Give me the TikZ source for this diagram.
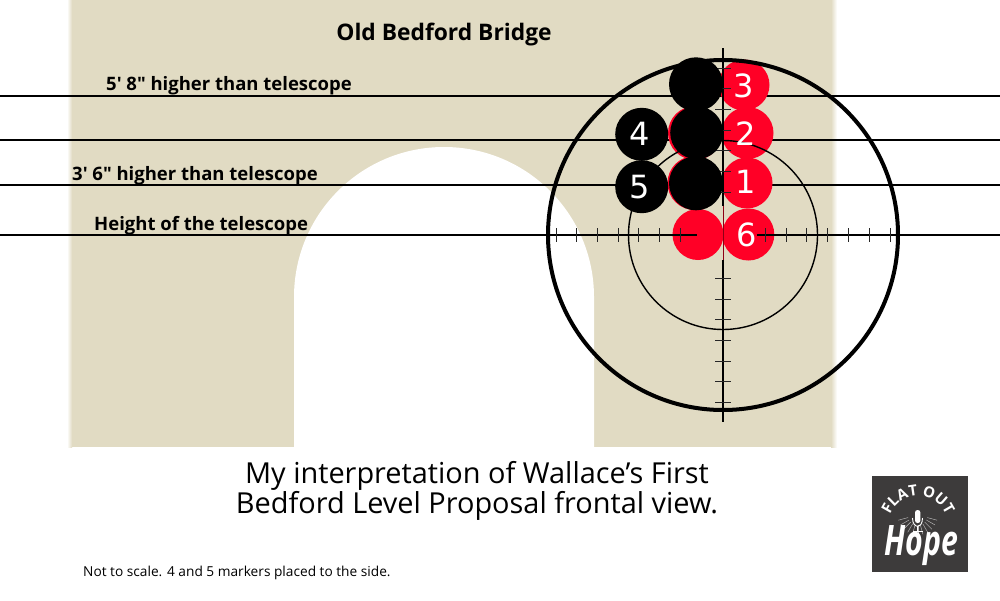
\documentclass[tikz,border=0pt]{standalone}
\usepackage{fontspec}
\setmainfont{Open Sans}[Ligatures=TeXOff]
\newfontfamily\numfont{DejaVu Sans}
\usetikzlibrary{decorations.text}
\definecolor{bridge}{HTML}{E1DBC3}
\definecolor{disc}{HTML}{FF0026}
\definecolor{logobg}{HTML}{3D3B3B}
\tikzset{
  hline/.style={line width=2pt,black},
  tickmark/.style={line width=0.9pt,black!85!white},
  reddisc/.style={circle,fill=disc,inner sep=0pt,minimum size=#1},
  blackdisc/.style={circle,fill=black,inner sep=0pt,minimum size=#1},
  numlabel/.style={text=white,font=\numfont\fontsize{32}{32}\selectfont,inner sep=0pt},
  sidelabel/.style={font=\bfseries\fontsize{18.5}{20}\selectfont,inner sep=0pt,anchor=base west},
  captionline/.style={font=\fontsize{28.9}{30}\selectfont,inner sep=0pt,align=center},
}
\begin{document}
\begin{tikzpicture}[x=1pt,y=-1pt]
\useasboundingbox (0,0) rectangle (1000,600);
\fill[white] (0,0) rectangle (1000,600);
% bridge
\fill[bridge] (72,0) rectangle (831,447);
\shade[left color=white,right color=bridge] (67,0) rectangle (72,447);
\shade[left color=bridge,right color=white] (831,0) rectangle (837,447);
\fill[white] (294,447) -- (294,297) arc[start angle=180,end angle=360,radius=150] -- (594,447) -- cycle;
% sight lines
\draw[hline] (0,95.5) -- (1000,95.5);
\draw[hline] (0,140) -- (1000,140);
\draw[hline] (0,185) -- (1000,185);
% red markers
\node[reddisc=54pt] (r2l) at (695,133) {};
\node[reddisc=54pt] (r1l) at (694.5,183) {};
\node[reddisc=51pt] (r6l) at (698,234.5) {};
\node[reddisc=51pt] (r3) at (744,85) {};
\node[reddisc=52pt] (r2) at (747.5,133) {};
\node[reddisc=51pt] (r1) at (747,183) {};
\node[reddisc=52pt] (r6) at (748.3,234.5) {};
% reticle
\draw[line width=4pt] (723,235) circle[radius=175];
\draw[line width=1.4pt] (723,235) circle[radius=94.5];
\draw[hline] (0,235) -- (697,235);
\draw[hline] (757,235) -- (1000,235);
\draw[line width=1.4pt] (723,48) -- (723,206);
\draw[line width=0.5pt,black!45!disc] (723,206) -- (723,260);
\draw[line width=1.4pt] (723,260) -- (723,422);
\foreach \x in {556,576.7,597,618,638.7,659.3,680,765.7,786.3,806.7,827.7,848.3,869,890}
  \draw[tickmark] (\x,228) -- (\x,242);
\foreach \y in {68,88.7,109.7,130,150.7,171,192.3,278,299,319.3,340,361,381.3,402.3}
  \draw[tickmark] (715,\y) -- (731,\y);
% black markers
\node[blackdisc=54pt] (b3) at (696,84.3) {};
\node[blackdisc=53pt] (b2) at (696.7,132.7) {};
\node[blackdisc=54pt] (b1) at (696,183.3) {};
\node[blackdisc=53pt] (b4) at (641.7,134.3) {};
\node[blackdisc=53pt] (b5) at (641.7,186.7) {};
% numbers
\node[numlabel] (n3) at (744,86) {3};
\node[numlabel] (n2) at (746,133.5) {2};
\node[numlabel] (n1) at (746,181.5) {1};
\node[numlabel] (n6) at (746.5,235) {6};
\node[numlabel] (n4) at (639.5,133.5) {4};
\node[numlabel] (n5) at (640,187.5) {5};
% labels
\node[font=\bfseries\fontsize{22.8}{24}\selectfont,inner sep=0pt] (title) at (444,35) {Old Bedford Bridge};
\node[sidelabel] (l1) at (106,90) {5' 8" higher than telescope};
\node[sidelabel] (l2) at (72,180) {3' 6" higher than telescope};
\node[sidelabel] (l3) at (94,230) {Height of the telescope};
\node[captionline] (c1) at (477,476) {My interpretation of Wallace’s First};
\node[captionline] (c2) at (477,506) {Bedford Level Proposal frontal view.};
\node[font=\fontsize{13.7}{15}\selectfont,inner sep=0pt,anchor=base west] (note) at (83,576) {Not to scale. 4 and 5 markers placed to the side.};
% logo
\node[fill=logobg,minimum width=96pt,minimum height=96pt,inner sep=0pt] (logo) at (919.5,524) {};
\path[decorate,decoration={text along path,text align=center,
   text={|\fontsize{15}{15}\selectfont\bfseries\color{white}|FLAT OUT}}]
   (888,526) arc[start angle=180,end angle=360,radius=30];
\foreach \a in {-75,-60,-45,-30,-15,0,15,30,45,60,75}
  \draw[white!70!logobg,line width=0.4pt] ([shift={(\a-90:10pt)}]917.7,515) -- ([shift={(\a-90:20pt)}]917.7,515);
\fill[white,rounded corners=2.5pt] (915,510) rectangle (920.4,523);
\draw[white,line width=0.9pt] (912.5,518) .. controls (912.5,529) and (922.5,529) .. (922.5,518);
\draw[white,line width=0.9pt] (917.7,526) -- (917.7,531) (913,531) -- (922.5,531);
\node[text=white,font=\bfseries\itshape\fontsize{42}{42}\selectfont,inner sep=0pt] (hope) at (921,546) {\scalebox{.72}[1]{Hope}};
\end{tikzpicture}
\end{document}
